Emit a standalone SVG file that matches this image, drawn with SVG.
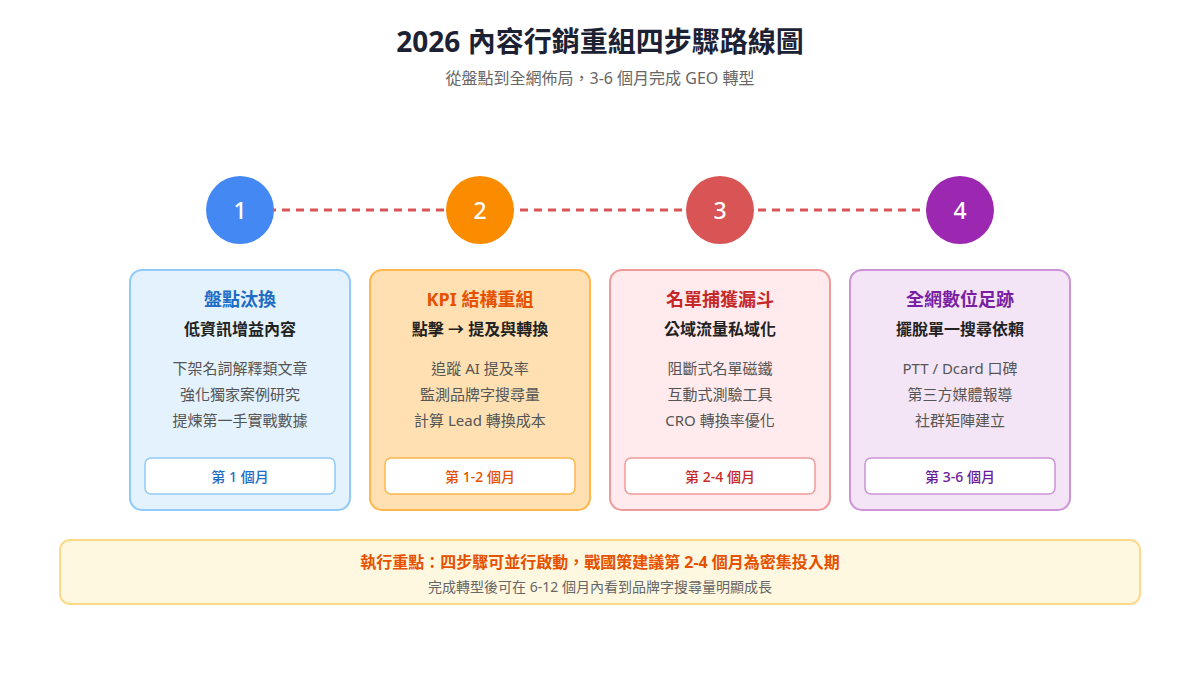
<svg xmlns="http://www.w3.org/2000/svg" width="1200" height="700" viewBox="0 0 1200 700">
<style>
text{font-family:"Noto Sans","Noto Sans CJK TC",sans-serif;text-anchor:middle}
.title{font-size:28px;font-weight:700;fill:#1c2233}
.sub{font-size:16px;fill:#666}
.num{font-size:23px;font-weight:500;fill:#fff;dominant-baseline:central}
.ct{font-size:18px;font-weight:700}
.cs{font-size:16px;font-weight:700;fill:#222}
.ci{font-size:15px;fill:#555}
.pt{font-size:14px;font-weight:500;dominant-baseline:central}
.pill{fill:#fff;stroke-width:1.5}
.card{stroke-width:2}
</style>
<rect width="1200" height="700" fill="#fff"/>
<text class="title" x="600" y="52">2026 內容行銷重組四步驟路線圖</text>
<text class="sub" x="600" y="84">從盤點到全網佈局，3-6 個月完成 GEO 轉型</text>
<g id="connectors">
<line x1="240" y1="210" x2="960" y2="210" stroke="#D95555" stroke-width="3" stroke-dasharray="8,6"/>
</g>
<g id="step1">
<circle cx="240" cy="210" r="34" fill="#4488F4"/>
<text class="num" x="240" y="210">1</text>
<rect class="card" x="130" y="270" width="220" height="240" rx="12" fill="#E3F2FD" stroke="#90CAF9"/>
<text class="ct" x="240" y="306" fill="#1E6CC4">盤點汰換</text>
<text class="cs" x="240" y="335">低資訊增益內容</text>
<text class="ci" x="240" y="374">下架名詞解釋類文章</text>
<text class="ci" x="240" y="400">強化獨家案例研究</text>
<text class="ci" x="240" y="426">提煉第一手實戰數據</text>
<rect class="pill" x="145" y="458" width="190" height="36" rx="6" stroke="#90CAF9"/>
<text class="pt" x="240" y="476" fill="#1E6CC4">第 1 個月</text>
</g>
<g id="step2">
<circle cx="480" cy="210" r="34" fill="#FB8C00"/>
<text class="num" x="480" y="210">2</text>
<rect class="card" x="370" y="270" width="220" height="240" rx="12" fill="#FFE0B2" stroke="#FFB74D"/>
<text class="ct" x="480" y="306" fill="#E65100">KPI 結構重組</text>
<text class="cs" x="480" y="335">點擊 → 提及與轉換</text>
<text class="ci" x="480" y="374">追蹤 AI 提及率</text>
<text class="ci" x="480" y="400">監測品牌字搜尋量</text>
<text class="ci" x="480" y="426">計算 Lead 轉換成本</text>
<rect class="pill" x="385" y="458" width="190" height="36" rx="6" stroke="#FFB74D"/>
<text class="pt" x="480" y="476" fill="#E65100">第 1-2 個月</text>
</g>
<g id="step3">
<circle cx="720" cy="210" r="34" fill="#D95454"/>
<text class="num" x="720" y="210">3</text>
<rect class="card" x="610" y="270" width="220" height="240" rx="12" fill="#FFEBEE" stroke="#EF9A9A"/>
<text class="ct" x="720" y="306" fill="#C62828">名單捕獲漏斗</text>
<text class="cs" x="720" y="335">公域流量私域化</text>
<text class="ci" x="720" y="374">阻斷式名單磁鐵</text>
<text class="ci" x="720" y="400">互動式測驗工具</text>
<text class="ci" x="720" y="426">CRO 轉換率優化</text>
<rect class="pill" x="625" y="458" width="190" height="36" rx="6" stroke="#EF9A9A"/>
<text class="pt" x="720" y="476" fill="#C62828">第 2-4 個月</text>
</g>
<g id="step4">
<circle cx="960" cy="210" r="34" fill="#9C27B0"/>
<text class="num" x="960" y="210">4</text>
<rect class="card" x="850" y="270" width="220" height="240" rx="12" fill="#F3E5F5" stroke="#CE93D8"/>
<text class="ct" x="960" y="306" fill="#7B1FA2">全網數位足跡</text>
<text class="cs" x="960" y="335">擺脫單一搜尋依賴</text>
<text class="ci" x="960" y="374">PTT / Dcard 口碑</text>
<text class="ci" x="960" y="400">第三方媒體報導</text>
<text class="ci" x="960" y="426">社群矩陣建立</text>
<rect class="pill" x="865" y="458" width="190" height="36" rx="6" stroke="#CE93D8"/>
<text class="pt" x="960" y="476" fill="#6A1B9A">第 3-6 個月</text>
</g>
<g id="banner">
<rect x="60" y="540" width="1080" height="64" rx="10" fill="#FFF8E1" stroke="#FFD98A" stroke-width="2"/>
<text x="600" y="568" font-size="16" font-weight="700" fill="#E65100">執行重點：四步驟可並行啟動，戰國策建議第 2-4 個月為密集投入期</text>
<text x="600" y="592" font-size="14" fill="#666">完成轉型後可在 6-12 個月內看到品牌字搜尋量明顯成長</text>
</g>
</svg>
